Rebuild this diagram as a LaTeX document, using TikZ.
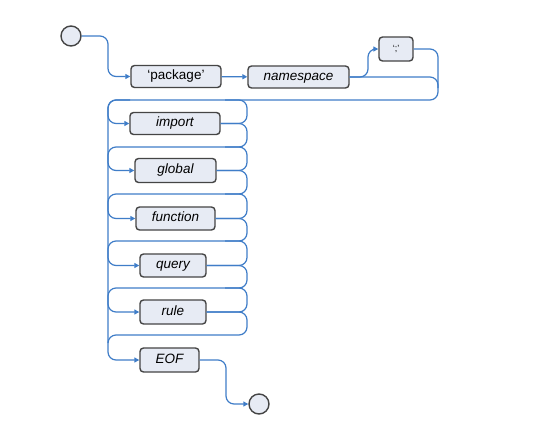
\documentclass[tikz,border=0pt]{standalone}
\usepackage{fontspec}
\setmainfont{Liberation Sans}
\usetikzlibrary{arrows.meta}
\definecolor{railblue}{HTML}{3F7DC8}
\definecolor{boxfill}{HTML}{E7EBF4}
\definecolor{boxline}{HTML}{454545}

\begin{document}
\begin{tikzpicture}[x=1pt,y=-1pt,
  rail/.style={draw=railblue,line width=1.2pt,rounded corners=8pt},
  into/.style={rail,-{Triangle[length=5pt,width=5pt]}},
  box/.style={draw=boxline,fill=boxfill,line width=1.4pt,rounded corners=3.5pt,
    minimum height=22pt,inner sep=0pt,text height=9.6pt,text depth=2.8pt,
    font=\fontsize{13.5}{15}\selectfont},
  term/.style={box},
  nonterm/.style={box,font=\fontsize{13.5}{15}\selectfont\itshape},
  ends/.style={circle,draw=boxline,fill=boxfill,line width=1.4pt,
    minimum size=20pt,inner sep=0pt}]
  \useasboundingbox (0,0) rectangle (538,429);
  \fill[white] (0,0) rectangle (538,429);

  \node[ends] (start) at (71,36) {};
  \node[term,minimum width=90pt] (pkg) at (176,76.5) {`package'};
  \node[nonterm,minimum width=101pt] (ns) at (298.5,77) {namespace};
  \node[term,minimum width=34pt,minimum height=24pt,text height=6pt,text depth=1pt,
        font=\fontsize{9}{10}\selectfont] (semi) at (396,49) {`;'};

  \node[nonterm,minimum width=90pt] (imp) at (175,123.5) {import};
  \node[nonterm,minimum width=81pt,minimum height=24pt] (glob) at (175.5,170.5) {global};
  \node[nonterm,minimum width=79pt,minimum height=23pt] (func) at (175.5,218.5) {function};
  \node[nonterm,minimum width=66pt,minimum height=23pt] (qry) at (173,265.5) {query};
  \node[nonterm,minimum width=66pt,minimum height=24pt] (rul) at (173,312) {rule};
  \node[nonterm,minimum width=59pt,minimum height=24pt] (eof) at (169.5,360) {EOF};
  \node[ends] (stop) at (259,404) {};

  \draw[into] (start) -- (108,36) -- (108,76.5) -- (pkg);
  \draw[into] (pkg) -- (ns);
  \draw[into] (ns.east) -- (368,77) -- (368,49) -- (semi);
  \draw[rail] (semi) -- (438,49) -- (438,88);
  \draw[into] (ns.east) -- (438,77) -- (438,100) -- (108,100) -- (108,360) -- (eof);
  \draw[into] (130,100) -- (108,100) -- (108,123.5) -- (imp);

  \draw[rail] (imp) -- (247,123.5) -- (247,100) -- (225,100);
  \draw[into] (imp) -- (247,123.5) -- (247,147) -- (108,147) -- (108,170.5) -- (glob);
  \draw[rail] (glob) -- (247,170.5) -- (247,147) -- (225,147);
  \draw[into] (glob) -- (247,170.5) -- (247,194) -- (108,194) -- (108,218.5) -- (func);
  \draw[rail] (func) -- (247,218.5) -- (247,194) -- (225,194);
  \draw[into] (func) -- (247,218.5) -- (247,241) -- (108,241) -- (108,265.5) -- (qry);
  \draw[rail] (qry) -- (247,265.5) -- (247,241) -- (225,241);
  \draw[into] (qry) -- (247,265.5) -- (247,288) -- (108,288) -- (108,312) -- (rul);
  \draw[rail] (rul) -- (247,312) -- (247,288) -- (225,288);
  \draw[rail] (rul) -- (247,312) -- (247,335) -- (108,335) -- (108,343);

  \draw[into] (eof) -- (226,360) -- (226,404) -- (stop);
\end{tikzpicture}
\end{document}
